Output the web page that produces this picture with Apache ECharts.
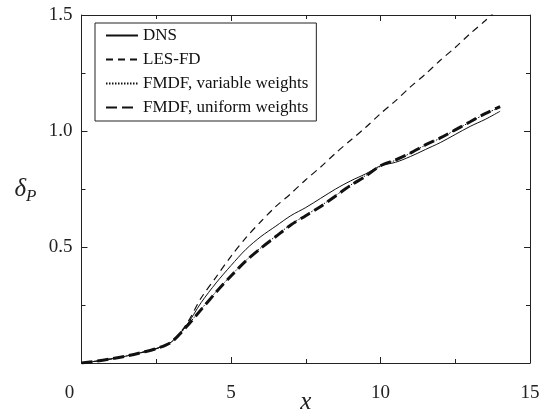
<!DOCTYPE html>
<html><head><meta charset="utf-8">
<script src="https://cdn.jsdelivr.net/npm/echarts@6/dist/echarts.min.js"></script>
<style>html,body{margin:0;padding:0;background:#fff}#c{width:539px;height:418px}</style>
</head><body><div id="c"></div>
<script>
const xs = [0,0.5,1,1.5,2,2.5,3,3.5,4,4.5,5,5.5,6,6.5,7,7.5,8,8.5,9,9.5,10,10.5,11,11.5,12,12.5,13,13.5,14];
const dns = [0,0.008,0.018,0.03,0.045,0.062,0.09,0.16,0.26,0.345,0.42,0.49,0.545,0.59,0.635,0.67,0.71,0.75,0.785,0.815,0.85,0.865,0.89,0.92,0.95,0.985,1.02,1.05,1.085];
const lesfd = [0,0.008,0.018,0.03,0.045,0.062,0.09,0.165,0.28,0.37,0.46,0.54,0.61,0.675,0.73,0.79,0.845,0.905,0.96,1.015,1.075,1.13,1.19,1.245,1.305,1.36,1.42,1.475,1.535];
const fmdfVar = [0,0.008,0.018,0.03,0.045,0.062,0.09,0.156,0.232,0.307,0.377,0.442,0.497,0.547,0.597,0.637,0.677,0.722,0.767,0.808,0.848,0.874,0.904,0.939,0.969,1.004,1.039,1.073,1.103];
const fmdfUni = [0,0.008,0.018,0.03,0.045,0.062,0.09,0.155,0.23,0.305,0.375,0.44,0.495,0.545,0.595,0.635,0.675,0.72,0.765,0.805,0.85,0.875,0.905,0.94,0.97,1.005,1.04,1.075,1.105];
const seriesNames = ['DNS','LES-FD','FMDF, variable weights','FMDF, uniform weights'];
const xTicks = [0,5,10,15];
const yTicks = [0.5,1.0,1.5];

const pairs = ys => xs.map((x,i)=>[x,ys[i]]);
const font = "'Liberation Serif','Times New Roman',serif";
const axisCommon = () => ({
  type:'value',
  axisLine:{show:true,onZero:false,lineStyle:{color:'#222',width:1}},
  axisTick:{show:true,inside:true,length:6,lineStyle:{color:'#222',width:1}},
  minorTick:{show:true,splitNumber:2,length:4,lineStyle:{color:'#222',width:1}},
  splitLine:{show:false},
});
const chart = echarts.init(document.getElementById('c'),null,{renderer:'canvas'});
chart.setOption({
  animation:false,
  backgroundColor:'#fff',
  color:['#111','#111','#111','#111'],
  grid:{left:81.5,right:9,top:15,bottom:55,containLabel:false,outerBoundsMode:'none'},
  legend:{
    show:true, orient:'vertical', left:95, top:23,
    padding:[4,8,5,10], itemGap:7, itemWidth:32, itemHeight:14,
    borderColor:'#222', borderWidth:1, backgroundColor:'#fff',
    itemStyle:{opacity:0},
    textStyle:{fontFamily:font,fontSize:17,color:'#111',lineHeight:16},
    data:seriesNames
  },
  xAxis:[
    Object.assign(axisCommon(),{min:0,max:15,interval:5,position:'bottom',
      axisLabel:{show:true,margin:21,fontFamily:font,fontSize:19,color:'#222',
        formatter:v=>xTicks.includes(v)?(v===0?'{z|0}':String(v)):'',
        rich:{z:{fontFamily:font,fontSize:19,color:'#222',padding:[0,24,0,0]}}},
      name:'x',nameLocation:'middle',nameGap:27,nameMoveOverlap:false,
      nameTextStyle:{fontFamily:font,fontSize:25,fontStyle:'italic',color:'#222'}}),
    Object.assign(axisCommon(),{min:0,max:15,interval:5,position:'top',axisLabel:{show:false}})
  ],
  yAxis:[
    Object.assign(axisCommon(),{min:0,max:1.5,interval:0.5,position:'left',
      axisLabel:{show:true,margin:9,fontFamily:font,fontSize:19,color:'#222',
        formatter:v=>yTicks.some(t=>Math.abs(t-v)<1e-9)?v.toFixed(1):''},
      name:'{d|δ}{p|P}',nameLocation:'middle',nameRotate:0,nameGap:45,
      nameTextStyle:{rich:{
        d:{fontFamily:font,fontSize:25,fontStyle:'italic',color:'#222'},
        p:{fontFamily:font,fontSize:17,fontStyle:'italic',color:'#222',padding:[16,0,0,0]}}}}),
    Object.assign(axisCommon(),{min:0,max:1.5,interval:0.5,position:'right',axisLabel:{show:false}})
  ],
  series:[
    {name:seriesNames[0],type:'line',data:pairs(dns),showSymbol:false,symbol:'none',smooth:0.3,
      lineStyle:{color:'#111',width:1,type:'solid'},z:3},
    {name:seriesNames[1],type:'line',data:pairs(lesfd),showSymbol:false,symbol:'none',smooth:0.3,
      lineStyle:{color:'#111',width:1.2,type:[7,5]},z:3},
    {name:seriesNames[2],type:'line',data:pairs(fmdfVar),showSymbol:false,symbol:'none',smooth:0.3,
      lineStyle:{color:'#111',width:1,type:[1.5,1.5]},z:4},
    {name:seriesNames[3],type:'line',data:pairs(fmdfUni),showSymbol:false,symbol:'none',smooth:0.3,
      lineStyle:{color:'#111',width:3,type:[11,5]},z:5}
  ]
});
</script></body></html>
